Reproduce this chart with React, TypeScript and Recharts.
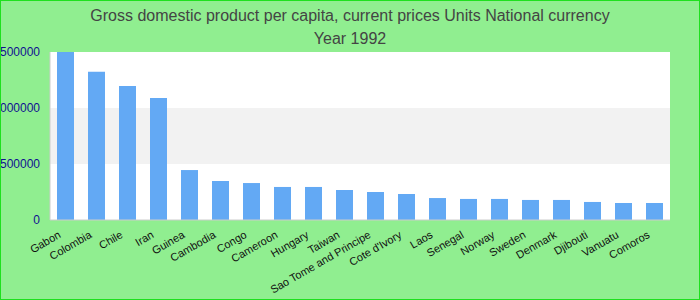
import React from 'react';
import { BarChart, Bar, XAxis, YAxis, CartesianGrid } from 'recharts';

const countries = [
  'Gabon', 'Colombia', 'Chile', 'Iran', 'Guinea', 'Cambodia', 'Congo', 'Cameroon', 'Hungary', 'Taiwan',
  'Sao Tome and Principe', "Cote d'Ivory", 'Laos', 'Senegal', 'Norway', 'Sweden', 'Denmark', 'Djibouti', 'Vanuatu', 'Comoros',
];
const gdpValues = [
  1500000, 1324000, 1196000, 1089000, 446000, 348000, 330000, 295000, 295000, 268000,
  250000, 232000, 196000, 188000, 188000, 179000, 179000, 161000, 152000, 152000,
];
const yTicks = [0, 500000, 1000000, 1500000];
const titleLines = ['Gross domestic product per capita, current prices Units National currency', 'Year 1992'];

const data = countries.map((name, i) => ({ name, value: gdpValues[i] }));

const FONT = '"Liberation Sans", Arial, sans-serif';

const XTick = (props: any) => {
  const { x, y, payload } = props;
  const tx = x - 4;
  const ty = y + 17;
  return (
    <text x={tx} y={ty} textAnchor="end" fill="#111" fontSize={11} fontFamily={FONT} transform={`rotate(-30, ${tx}, ${ty})`}>
      {payload.value}
    </text>
  );
};

export default function App() {
  return (
    <div
      style={{
        position: 'fixed',
        left: 0,
        top: 0,
        width: 700,
        height: 300,
        boxSizing: 'border-box',
        border: '1px solid #1ee01e',
        background: '#90EE90',
        fontFamily: FONT,
        overflow: 'hidden',
      }}
    >
      <div style={{ position: 'absolute', left: 0, top: 3, width: 698, textAlign: 'center', fontSize: 16, color: '#444', lineHeight: '23px' }}>
        <div>{titleLines[0]}</div>
        <div>{titleLines[1]}</div>
      </div>
      <BarChart width={698} height={298} data={data} margin={{ top: 51, right: 29, bottom: 0, left: 0 }}>
        <CartesianGrid horizontal={true} vertical={false} stroke="none" horizontalFill={['#ffffff', '#f2f2f2']} fillOpacity={1} />
        <XAxis
          dataKey="name"
          interval={0}
          height={79}
          tickLine={false}
          tickSize={0}
          tickMargin={0}
          axisLine={{ stroke: '#cccccc' }}
          tick={<XTick />}
        />
        <XAxis xAxisId="top" orientation="top" dataKey="name" height={0} tick={false} tickLine={false} axisLine={{ stroke: '#cccccc' }} />
        <YAxis
          width={49}
          domain={[0, 1500000]}
          ticks={yTicks}
          tickLine={false}
          tickSize={0}
          tickMargin={10}
          axisLine={{ stroke: '#cccccc' }}
          tick={{ fill: '#101090', fontSize: 12, fontFamily: FONT }}
        />
        <YAxis yAxisId="right" orientation="right" width={0} domain={[0, 1500000]} tick={false} tickLine={false} axisLine={{ stroke: '#cccccc' }} />
        <Bar dataKey="value" fill="#63a9f4" barSize={17} isAnimationActive={false} />
      </BarChart>
    </div>
  );
}
